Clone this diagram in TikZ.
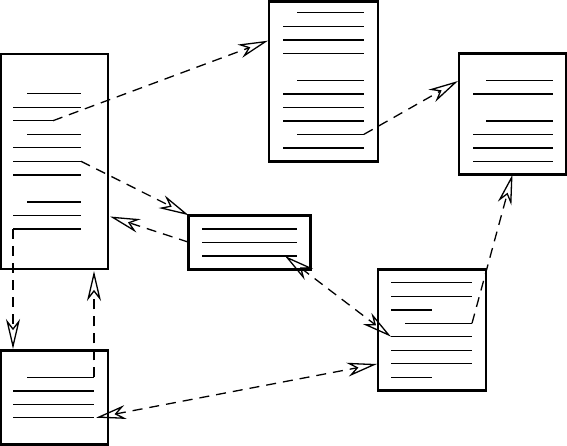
\documentclass[tikz,border=0pt]{standalone}
\usetikzlibrary{arrows.meta}
\begin{document}
\begin{tikzpicture}[x=1pt,y=-1pt,>={Stealth[open,length=30pt,width=14pt,inset=9pt]}]
\tikzstyle{doc}=[draw,line width=2.8pt,inner sep=0pt,outer sep=0pt];
\tikzstyle{row}=[line width=1.3pt];
\tikzstyle{link}=[line width=1.3pt,dash pattern=on 10pt off 7pt];

\useasboundingbox (0,0) rectangle (567,446);

  \node[doc,minimum width=107pt,minimum height=215pt] (a) at (54.5,161.5) {};
  \node[doc,minimum width=109pt,minimum height=160pt] (b) at (323.5,81.5) {};
  \node[doc,minimum width=107pt,minimum height=121pt] (c) at (512.5,114) {};
  \node[doc,minimum width=122pt,minimum height=54pt] (m) at (249.6,242.2) {};
  \node[doc,minimum width=108pt,minimum height=121pt] (d) at (432,330.2) {};
  \node[doc,minimum width=107pt,minimum height=94pt] (e) at (54.5,397.3) {};

% lines of text
\foreach \y/\x/\xx in {93.3/27/81, 107.3/13/81, 120.7/13/53, 134.3/27/81, 147.7/13/81,
  161.3/13/81, 175/13/81, 202/27/81, 215.3/13/81, 229/13/81}
\draw[row] (\x,\y) -- (\xx,\y);
\foreach \y/\x/\xx in {12.7/297/364, 26.3/283/364, 40/283/364, 53.3/283/364, 80.3/297/364,
  94/283/364, 107.3/283/364, 121/283/364, 134.3/297/364, 148/283/364}
\draw[row] (\x,\y) -- (\xx,\y);
\foreach \y/\x/\xx in {80.3/486/553, 94/473/553, 121/486/553, 134.7/473/553, 148/473/553, 161.3/473/553}
\draw[row] (\x,\y) -- (\xx,\y);
\foreach \y in {229, 242.3, 256}
\draw[row] (202,\y) -- (297,\y);
\foreach \y/\x/\xx in {282.7/391/472, 296.3/391/472, 310/391/432, 323.3/405/472,
  336.7/391/472, 350.3/391/472, 363.7/391/472, 377.3/391/432}
\draw[row] (\x,\y) -- (\xx,\y);
\foreach \y/\x/\xx in {377.3/27/94, 391/13/94, 404.3/13/94, 417.7/13/94}
\draw[row] (\x,\y) -- (\xx,\y);

  \coordinate (a3) at (53,120.7);
  \coordinate (a6) at (81,161.3);
  \coordinate (a10) at (13,229);
  \coordinate (b9) at (364,134.3);
  \coordinate (d4) at (472,323.3);
  \coordinate (d5) at (391,336.7);
  \coordinate (e1) at (94,377.3);
  \coordinate (e4) at (96,417.7);
  \coordinate (m3) at (285,256);
  \coordinate (bin) at (268,40.7);
  \coordinate (cin) at (458,81);
  \coordinate (ain) at (110,216.5);
  \coordinate (abot) at (94,271);
  \coordinate (etop) at (13,349);
  \coordinate (din) at (377,364);

\foreach \from/\to in {a3/bin, a6/m.north west, m.west/ain, a10/etop, e1/abot, b9/cin, d4/c.south}
\draw [link,->] (\from) -- (\to);
\foreach \from/\to in {m3/d5, e4/din}
\draw [link,<->] (\from) -- (\to);

\end{tikzpicture}
\end{document}
